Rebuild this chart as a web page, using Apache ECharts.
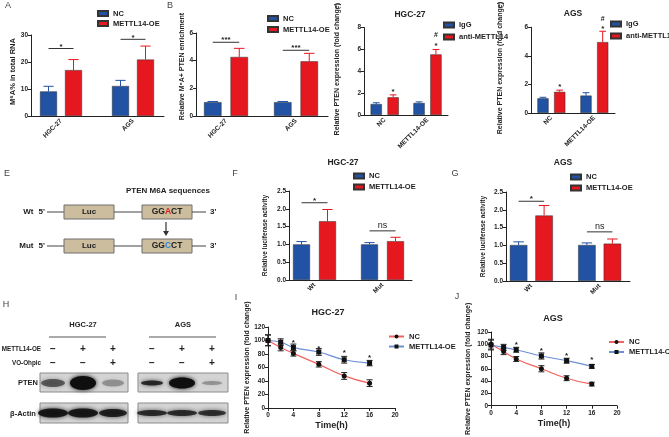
<!DOCTYPE html>
<html><head><meta charset="utf-8">
<script src="https://cdn.jsdelivr.net/npm/echarts@6/dist/echarts.min.js"></script>
<style>html,body{margin:0;padding:0;background:#fff}#c{width:669px;height:437px}</style>
</head><body><div id="c"></div>
<script>
const FONT = '"Liberation Sans", Arial, sans-serif';
const AX = '#222';
const BLUE = '#2152a3', RED = '#e5171f';
const LRED = '#f2625f', LBLUE = '#6d8fd6';

// ---- Panel A: M6A% in total RNA
const catsA = ['HGC-27', 'AGS'];
const ncA = [9.1, 11.1], ncAErr = [1.9, 2.1];
const oeA = [17.0, 20.9], oeAErr = [3.9, 5.0];
const sigAY = [25.0, 28.4], sigAText = ['*', '*'];
const ticksA = { max: 30, interval: 10 };

// ---- Panel B: Relative M6A+ PTEN enrichment
const catsB = ['HGC-27', 'AGS'];
const ncB = [1.0, 1.0], ncBErr = [0.05, 0.05];
const oeB = [4.27, 3.95], oeBErr = [0.62, 0.58];
const sigBY = [5.33, 4.75], sigBText = ['***', '***'];
const ticksB = { max: 6, interval: 2 };

// ---- Panel C: HGC-27 RIP
const catsC = ['NC', 'METTL14-OE'];
const igC = [1.0, 1.1], igCErr = [0.12, 0.1];
const antiC = [1.62, 5.54], antiCErr = [0.22, 0.45];
const starCGroup = [1, 2, 2], starCY = [2.3, 6.5, 7.3], starCText = ['*', '*', '#'];
const ticksC = { max: 8, interval: 2 };

// ---- Panel D: AGS RIP
const catsD = ['NC', 'METTL14-OE'];
const igD = [1.03, 1.22], igDErr = [0.07, 0.2];
const antiD = [1.48, 4.96], antiDErr = [0.12, 0.76];
const starDGroup = [1, 2, 2], starDY = [1.95, 6.05, 6.6], starDText = ['*', '*', '#'];
const ticksD = { max: 6, interval: 2 };

// ---- Panel F: HGC-27 luciferase
const catsF = ['Wt', 'Mut'];
const ncF = [1.0, 1.0], ncFErr = [0.08, 0.05];
const oeF = [1.65, 1.09], oeFErr = [0.33, 0.11];
const sigFY = [2.17, 1.38], sigFText = ['*', 'ns'];
const ticksF = { max: 2.5, interval: 0.5 };

// ---- Panel G: AGS luciferase
const catsG = ['Wt', 'Mut'];
const ncG = [1.01, 1.01], ncGErr = [0.09, 0.06];
const oeG = [1.84, 1.05], oeGErr = [0.28, 0.13];
const sigGY = [2.24, 1.38], sigGText = ['*', 'ns'];
const ticksG = { max: 2.5, interval: 0.5 };

// ---- Panel H: western blot
const oeSigns = ['−', '+', '+', '−', '+', '+'];
const voSigns = ['−', '−', '+', '−', '−', '+'];
const ptenBand = [0.55, 1.0, 0.3, 0.8, 1.0, 0.3];
const actinBand = [0.9, 0.9, 0.85, 0.78, 0.78, 0.75];

// ---- Panels I / J: PTEN decay
const times = [0, 2, 4, 8, 12, 16];
const ncI = [100.5, 89.7, 80.9, 64.7, 47.5, 36.8], ncIErr = [8, 5, 4, 4, 5, 5];
const oeI = [100.0, 97.5, 89.7, 83.0, 71.5, 66.5], oeIErr = [8, 5, 5, 5, 5, 4];
const starIT = [4, 8, 12, 16], starIY = [100, 91, 85, 78];
const ncJ = [100.2, 88.2, 76.1, 60.2, 44.8, 35.2], ncJErr = [8, 5, 4, 5, 4, 3];
const oeJ = [98.8, 94.9, 91.1, 81.0, 73.3, 64.1], oeJErr = [8, 5, 4, 5, 4, 3];
const starJT = [4, 8, 12, 16], starJY = [103, 92, 85, 78];
const ticksIJ = { max: 120, interval: 20, xmax: 20, xinterval: 4 };

const option = { animation: false, grid: [], xAxis: [], yAxis: [], series: [], legend: [], graphic: [] };
const legFmt = n => n.split('|')[0];

function yAxisBase(gi, t, name, gap, size, pad, fmt) {
  return {
    gridIndex: gi, type: 'value', min: 0, max: t.max, interval: t.interval,
    axisLine: { show: true, onZero: false, lineStyle: { color: AX, width: 1 } },
    axisTick: { show: true, length: 3, lineStyle: { color: AX } },
    splitLine: { show: false },
    axisLabel: { fontSize: 6.5, fontWeight: 'bold', color: AX, fontFamily: FONT, margin: 3, formatter: fmt },
    name: name, nameLocation: 'middle', nameGap: gap,
    nameTextStyle: { fontSize: size, fontWeight: 'bold', color: AX, fontFamily: FONT, padding: pad || 0 }
  };
}

function addBarPanel(p) {
  const gi = option.grid.length;
  const off = (p.bw + p.gap) / 2;
  option.grid.push({ left: p.x0, top: p.top, width: p.x1 - p.x0, height: p.h });
  option.xAxis.push({
    gridIndex: gi, type: 'value', min: p.xmin, max: p.xmax,
    axisLine: { show: true, onZero: false, lineStyle: { color: AX, width: 1 } },
    axisTick: { show: false }, splitLine: { show: false },
    axisLabel: {
      customValues: p.cats.map((c, i) => i + 1),
      formatter: v => p.cats[Math.round(v) - 1] || '',
      rotate: 45, fontSize: 6.5, fontWeight: 'bold', color: AX, fontFamily: FONT, margin: 4
    }
  });
  option.yAxis.push(yAxisBase(gi, p.ticks, p.yname, p.nameGap, p.nameSize, p.namePad, p.yfmt));
  [0, 1].forEach(k => {
    const vals = p.vals[k], errs = p.errs[k], col = p.colors[k];
    const sign = k === 0 ? -1 : 1;
    option.series.push({
      type: 'bar', name: p.names[k], xAxisIndex: gi, yAxisIndex: gi, silent: true,
      data: vals.map((v, i) => [i + 1, v]), barWidth: p.bw, barGap: (p.gap / p.bw * 100) + '%',
      itemStyle: { color: col, borderColor: '#333', borderWidth: 0.5 }, z: 2
    });
    option.series.push({
      type: 'custom', xAxisIndex: gi, yAxisIndex: gi, silent: true, z: 3,
      data: vals.map((v, i) => [i + 1, v, errs[i]]),
      renderItem: (params, api) => {
        const x = api.value(0), v = api.value(1), e = api.value(2);
        const a = api.coord([x, v]), b = api.coord([x, v + e]);
        const cx = a[0] + sign * off, cap = p.bw * 0.3;
        return { type: 'group', children: [
          { type: 'line', shape: { x1: cx, y1: a[1], x2: cx, y2: b[1] }, style: { stroke: col, lineWidth: 1 } },
          { type: 'line', shape: { x1: cx - cap, y1: b[1], x2: cx + cap, y2: b[1] }, style: { stroke: col, lineWidth: 1 } }
        ] };
      }
    });
  });
  if (p.sigY) {
    option.series.push({
      type: 'custom', xAxisIndex: gi, yAxisIndex: gi, silent: true, z: 4,
      data: p.sigY.map((y, i) => [i + 1, y]),
      renderItem: (params, api) => {
        const c = api.coord([api.value(0), api.value(1)]);
        const txt = p.sigText[params.dataIndex];
        const ns = txt === 'ns';
        return { type: 'group', children: [
          { type: 'line', shape: { x1: c[0] - off, y1: c[1], x2: c[0] + off, y2: c[1] }, style: { stroke: '#333', lineWidth: 1 } },
          { type: 'text', x: c[0], y: ns ? c[1] - 1 : c[1] + 2, style: { text: txt, align: 'center', verticalAlign: 'bottom',
            fontSize: ns ? 9 : 8, fontWeight: ns ? 'normal' : 'bold', fontFamily: FONT, fill: '#222' } }
        ] };
      }
    });
  }
  if (p.starY) {
    option.series.push({
      type: 'custom', xAxisIndex: gi, yAxisIndex: gi, silent: true, z: 4,
      data: p.starY.map((y, i) => [p.starGroup[i], y]),
      renderItem: (params, api) => {
        const c = api.coord([api.value(0), api.value(1)]);
        const txt = p.starText[params.dataIndex];
        return { type: 'text', x: c[0] + off, y: txt === '*' ? c[1] + 2 : c[1],
          style: { text: txt, align: 'center', verticalAlign: 'middle', fontSize: txt === '*' ? 8 : 7,
            fontWeight: 'bold', fontFamily: FONT, fill: '#222' } };
      }
    });
  }
  option.legend.push({
    orient: 'vertical', left: p.leg[0], top: p.leg[1], itemWidth: 10, itemHeight: 5, itemGap: p.leg[2],
    icon: 'rect', padding: 0, data: p.names, formatter: legFmt, selectedMode: false,
    textStyle: { fontSize: 7.5, fontWeight: 'bold', fontFamily: FONT, color: '#222' }
  });
}

function addLinePanel(p) {
  const gi = option.grid.length;
  option.grid.push({ left: p.x0, top: p.top, width: p.x1 - p.x0, height: p.h });
  option.xAxis.push({
    gridIndex: gi, type: 'value', min: 0, max: p.ticks.xmax, interval: p.ticks.xinterval,
    axisLine: { show: true, onZero: false, lineStyle: { color: AX, width: 1 } },
    axisTick: { show: true, length: 3, lineStyle: { color: AX } }, splitLine: { show: false },
    axisLabel: { fontSize: 6.5, fontWeight: 'bold', color: AX, fontFamily: FONT, margin: 4 },
    name: 'Time(h)', nameLocation: 'middle', nameGap: 13,
    nameTextStyle: { fontSize: 9, fontWeight: 'bold', color: AX, fontFamily: FONT }
  });
  option.yAxis.push(yAxisBase(gi, p.ticks, 'Relative PTEN expression (fold change)', p.nameGap, 7, p.namePad));
  const sets = [
    { name: 'NC|L', v: p.nc, e: p.ncErr, col: LRED, sym: 'circle' },
    { name: 'METTL14-OE|L', v: p.oe, e: p.oeErr, col: LBLUE, sym: 'rect' }
  ];
  sets.forEach(s => {
    option.series.push({
      type: 'line', name: s.name, xAxisIndex: gi, yAxisIndex: gi, silent: true, smooth: true,
      data: times.map((t, i) => [t, s.v[i]]), symbol: s.sym, symbolSize: 5,
      itemStyle: { color: '#111' }, lineStyle: { color: s.col, width: 1.2 }, z: 3
    });
    option.series.push({
      type: 'custom', xAxisIndex: gi, yAxisIndex: gi, silent: true, z: 2,
      data: times.map((t, i) => [t, s.v[i], s.e[i]]),
      renderItem: (params, api) => {
        const x = api.value(0), v = api.value(1), e = api.value(2);
        const a = api.coord([x, v - e]), b = api.coord([x, v + e]);
        const cap = 3;
        return { type: 'group', children: [
          { type: 'line', shape: { x1: a[0], y1: a[1], x2: b[0], y2: b[1] }, style: { stroke: '#222', lineWidth: 1 } },
          { type: 'line', shape: { x1: a[0] - cap, y1: a[1], x2: a[0] + cap, y2: a[1] }, style: { stroke: '#222', lineWidth: 1 } },
          { type: 'line', shape: { x1: b[0] - cap, y1: b[1], x2: b[0] + cap, y2: b[1] }, style: { stroke: '#222', lineWidth: 1 } }
        ] };
      }
    });
  });
  option.series.push({
    type: 'custom', xAxisIndex: gi, yAxisIndex: gi, silent: true, z: 4,
    data: p.starT.map((t, i) => [t, p.starY[i]]),
    renderItem: (params, api) => {
      const c = api.coord([api.value(0), api.value(1)]);
      return { type: 'text', x: c[0], y: c[1] + 2, style: { text: '*', align: 'center', verticalAlign: 'middle',
        fontSize: 8, fontWeight: 'bold', fontFamily: FONT, fill: '#222' } };
    }
  });
  option.legend.push({
    orient: 'vertical', left: p.leg[0], top: p.leg[1], itemWidth: 15, itemHeight: 5, itemGap: p.leg[2],
    padding: 0, data: ['NC|L', 'METTL14-OE|L'], formatter: legFmt, selectedMode: false,
    textStyle: { fontSize: 7.5, fontWeight: 'bold', fontFamily: FONT, color: '#222' }
  });
}

addBarPanel({ x0: 31, x1: 164, top: 35, h: 81, xmin: 1 - 30 / 72, xmax: 2 + 31 / 72, bw: 17, gap: 8,
  cats: catsA, vals: [ncA, oeA], errs: [ncAErr, oeAErr], colors: [BLUE, RED], names: ['NC', 'METTL14-OE'],
  ticks: ticksA, yname: 'M⁶A% in total RNA', nameGap: 12, nameSize: 7.5, namePad: [0, 0, 0, 8],
  sigY: sigAY, sigText: sigAText, leg: [97, 9.5, 2] });
addBarPanel({ x0: 196, x1: 328, top: 33, h: 83, xmin: 1 - 30 / 70, xmax: 2 + 32 / 70, bw: 17.5, gap: 9,
  cats: catsB, vals: [ncB, oeB], errs: [ncBErr, oeBErr], colors: [BLUE, RED], names: ['NC', 'METTL14-OE'],
  ticks: ticksB, yname: 'Relative M⁶A+ PTEN enrichment', nameGap: 9, nameSize: 7, namePad: [0, 0, 0, 16],
  sigY: sigBY, sigText: sigBText, leg: [267, 14.5, 3] });
addBarPanel({ x0: 364, x1: 448, top: 27.5, h: 87.5, xmin: 1 - 20.7 / 42.8, xmax: 2 + 20.5 / 42.8, bw: 11.3, gap: 5.6,
  cats: catsC, vals: [igC, antiC], errs: [igCErr, antiCErr], colors: [BLUE, RED], names: ['IgG', 'anti-METTL14'],
  ticks: ticksC, yname: 'Relative PTEN expression (fold change)', nameGap: 23, nameSize: 7, namePad: [0, 0, 0, 4],
  starY: starCY, starGroup: starCGroup, starText: starCText, leg: [443, 21, 4] });
addBarPanel({ x0: 531, x1: 615, top: 27, h: 86, xmin: 1 - 20.35 / 43, xmax: 2 + 20.65 / 43, bw: 11.2, gap: 5.5,
  cats: catsD, vals: [igD, antiD], errs: [igDErr, antiDErr], colors: [BLUE, RED], names: ['IgG', 'anti-METTL14'],
  ticks: ticksD, yname: 'Relative PTEN expression (fold change)', nameGap: 27, nameSize: 7, namePad: [0, 0, 0, 4],
  starY: starDY, starGroup: starDGroup, starText: starDText, leg: [610, 20, 4] });
addBarPanel({ x0: 289, x1: 412, top: 191, h: 89, xmin: 1 - 25.5 / 68, xmax: 2 + 29.5 / 68, bw: 17, gap: 9,
  cats: catsF, vals: [ncF, oeF], errs: [ncFErr, oeFErr], colors: [BLUE, RED], names: ['NC', 'METTL14-OE'],
  ticks: ticksF, yname: 'Relative luciferase activity', nameGap: 20, nameSize: 6.5, yfmt: v => v.toFixed(1),
  sigY: sigFY, sigText: sigFText, leg: [353, 172, 3] });
addBarPanel({ x0: 506, x1: 630, top: 192, h: 89, xmin: 1 - 25.35 / 68.3, xmax: 2 + 30.35 / 68.3, bw: 17.5, gap: 8,
  cats: catsG, vals: [ncG, oeG], errs: [ncGErr, oeGErr], colors: [BLUE, RED], names: ['NC', 'METTL14-OE'],
  ticks: ticksG, yname: 'Relative luciferase activity', nameGap: 19, nameSize: 6.5, yfmt: v => v.toFixed(1),
  sigY: sigGY, sigText: sigGText, leg: [570, 173, 3] });
addLinePanel({ x0: 268, x1: 395, top: 327, h: 81, nc: ncI, ncErr: ncIErr, oe: oeI, oeErr: oeIErr,
  starT: starIT, starY: starIY, ticks: ticksIJ, nameGap: 16, namePad: [0, 0, 0, 0], leg: [388, 332.5, 2] });
addLinePanel({ x0: 491, x1: 617, top: 332, h: 83, nc: ncJ, ncErr: ncJErr, oe: oeJ, oeErr: oeJErr,
  starT: starJT, starY: starJY, ticks: ticksIJ, nameGap: 19, namePad: [0, 0, 0, 0], leg: [608, 338, 2] });

// ---------- graphic: letters, titles, panel E, panel H ----------
const G = option.graphic;
function T(text, x, y, o) {
  o = o || {};
  G.push({ type: 'text', x: x, y: y, silent: true, style: Object.assign({ text: text, fill: '#222', fontFamily: FONT,
    fontSize: 8, fontWeight: 'bold', align: 'center', verticalAlign: 'middle' }, o) });
}
function L(x1, y1, x2, y2, c, w) {
  G.push({ type: 'line', silent: true, shape: { x1, y1, x2, y2 }, style: { stroke: c || '#444', lineWidth: w || 1 } });
}
const letters = [['A', 8, 6], ['B', 170, 6], ['C', 338, 7], ['D', 501, 6], ['E', 7, 174], ['F', 235, 174],
  ['G', 455, 174], ['H', 6, 305], ['I', 236, 298], ['J', 457, 297]];
letters.forEach(l => T(l[0], l[1], l[2], { fontSize: 9, fontWeight: 'normal', fill: '#444' }));
T('HGC-27', 410, 15, { fontSize: 8.5 });
T('AGS', 573, 14, { fontSize: 8.5 });
T('HGC-27', 343, 163, { fontSize: 8.5 });
T('AGS', 563, 163, { fontSize: 8.5 });
T('HGC-27', 328, 313, { fontSize: 9 });
T('AGS', 553, 319, { fontSize: 9 });

// Panel E
T('PTEN M6A sequences', 168, 191, { fontSize: 8 });
const rowsE = [
  { lab: 'Wt', y: 212, seq: '{n|GG}{r|A}{n|CT}' },
  { lab: 'Mut', y: 246, seq: '{n|GG}{b|C}{n|CT}' }
];
rowsE.forEach(r => {
  T(r.lab, 33.5, r.y, { align: 'right', fontSize: 8 });
  T("5'", 38.5, r.y, { align: 'left', fontSize: 8 });
  L(47, r.y, 64, r.y, '#444');
  G.push({ type: 'rect', silent: true, shape: { x: 64, y: r.y - 7, width: 50, height: 14 }, style: { fill: '#cbbd9d', stroke: '#6e6e6e', lineWidth: 1 } });
  T('Luc', 89, r.y, { fontSize: 8 });
  L(114, r.y, 142, r.y, '#444');
  G.push({ type: 'rect', silent: true, shape: { x: 142, y: r.y - 7, width: 50, height: 14 }, style: { fill: '#cbbd9d', stroke: '#6e6e6e', lineWidth: 1 } });
  G.push({ type: 'text', x: 167, y: r.y, silent: true, style: { text: r.seq, align: 'center', verticalAlign: 'middle',
    fontFamily: FONT, fontSize: 8.5, fontWeight: 'bold', fill: '#222',
    rich: { n: { fill: '#222', fontSize: 8.5, fontWeight: 'bold', fontFamily: FONT },
            r: { fill: '#e8201f', fontSize: 8.5, fontWeight: 'bold', fontFamily: FONT },
            b: { fill: '#2e86d4', fontSize: 8.5, fontWeight: 'bold', fontFamily: FONT } } } });
  L(192, r.y, 206, r.y, '#444');
  T("3'", 210, r.y, { align: 'left', fontSize: 8 });
});
L(166, 222, 166, 232, '#333', 1.2);
G.push({ type: 'polygon', silent: true, shape: { points: [[163, 231], [169, 231], [166, 236]] }, style: { fill: '#333' } });

// Panel H
T('HGC-27', 83, 325, { fontSize: 7.5 });
L(49, 337, 106, 337, '#555');
T('AGS', 183, 325, { fontSize: 7.5 });
L(149, 337, 216, 337, '#555');
T('METTL14-OE', 41, 349, { align: 'right', fontSize: 6.3 });
T('VO-Ohpic', 41, 363, { align: 'right', fontSize: 6.3 });
const laneX = [53, 83, 113, 152, 182, 212];
laneX.forEach((x, i) => {
  T(oeSigns[i], x, 349, { fontSize: 10 });
  T(voSigns[i], x, 363, { fontSize: 10 });
});
T('PTEN', 28, 383, { fontSize: 7.5 });
T('β-Actin', 23, 414, { fontSize: 7.5 });
[[40, 128], [138, 228]].forEach(b => {
  G.push({ type: 'rect', silent: true, shape: { x: b[0], y: 373, width: b[1] - b[0], height: 19 }, style: { fill: '#d4d4d4', stroke: '#8c8c8c', lineWidth: 1 } });
  G.push({ type: 'rect', silent: true, shape: { x: b[0], y: 403, width: b[1] - b[0], height: 20 }, style: { fill: '#d4d4d4', stroke: '#8c8c8c', lineWidth: 1 } });
});
const ptenSize = [[12, 4], [13, 7], [11, 3.5], [11, 2.5], [13, 5.5], [10, 2]];
const actinSize = [[15, 4.5], [15, 4.5], [14, 4], [15, 3], [15, 3], [14, 3]];
laneX.forEach((x, i) => {
  const a = ptenBand[i], s = ptenSize[i];
  G.push({ type: 'ellipse', silent: true, shape: { cx: x, cy: 383, rx: s[0], ry: s[1] },
    style: { fill: 'rgba(15,15,15,' + a + ')', shadowBlur: 4, shadowColor: 'rgba(15,15,15,' + a + ')' } });
  const b = actinBand[i], t = actinSize[i];
  G.push({ type: 'ellipse', silent: true, shape: { cx: x, cy: 413, rx: t[0], ry: t[1] },
    style: { fill: 'rgba(15,15,15,' + b + ')', shadowBlur: 4, shadowColor: 'rgba(15,15,15,' + b + ')' } });
});

const chart = echarts.init(document.getElementById('c'), null, { renderer: 'canvas' });
chart.setOption(option);
</script></body></html>
